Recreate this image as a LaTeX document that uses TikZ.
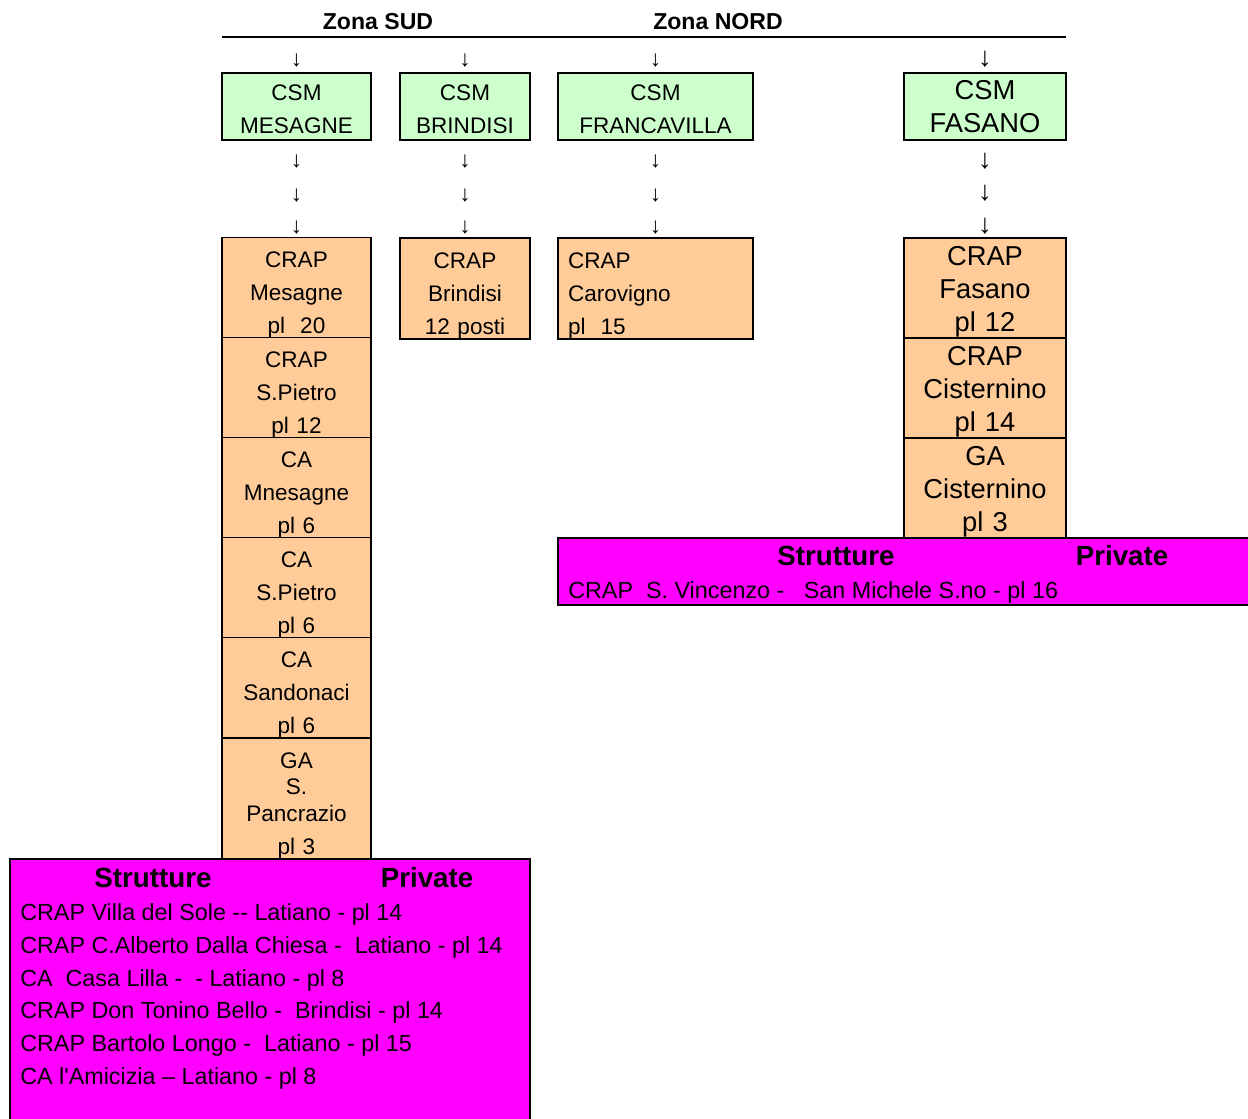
\documentclass[tikz,border=0pt]{standalone}
\usepackage{fontspec}
\setmainfont{Liberation Sans}[Ligatures=TeXOff]
\usetikzlibrary{positioning}

\definecolor{csmgreen}{HTML}{CCFFCC}
\definecolor{craporange}{HTML}{FFCC99}
\definecolor{privmagenta}{HTML}{FF00FF}

\newcommand{\fsmall}{\fontsize{16.9pt}{24.75pt}\selectfont}
\newcommand{\flarge}{\fontsize{20.5pt}{24.75pt}\selectfont}
\newcommand{\fitem}{\fontsize{17.5pt}{24.75pt}\selectfont}
\newcommand{\fzona}{\bfseries\fontsize{17.3pt}{20pt}\selectfont}
\newcommand{\fhead}{\bfseries\fontsize{20.8pt}{24pt}\selectfont}

\tikzset{
  csm/.style={draw, line width=1.2pt, fill=csmgreen, minimum height=50.25pt, inner sep=0pt, align=center, font=\fsmall, execute at begin node={\rule{0pt}{#1}}},
  csm/.default=16.6pt,
  crap/.style={draw, line width=1.2pt, fill=craporange, minimum height=75pt, inner sep=0pt, align=center, font=\fsmall, execute at begin node={\rule{0pt}{#1}}},
  crap/.default=22.6pt,
  priv/.style={draw, line width=1.2pt, fill=privmagenta, inner sep=0pt},
  down/.style={inner sep=0pt, font=\fsmall},
  item/.style={anchor=west, inner sep=0pt, font=\fitem},
  % column widths
  colmes/.style={minimum width=111.75pt, text width=111.75pt},
  colbri/.style={minimum width=97.5pt, text width=97.5pt},
  colfra/.style={minimum width=146.25pt, text width=146.25pt},
  colfas/.style={minimum width=121.5pt, text width=121.5pt, font=\flarge}
}

\begin{document}
\begin{tikzpicture}[x=0.75pt,y=-0.75pt]
\useasboundingbox (0,0) rectangle (1248,1119);
\clip (0,0) rectangle (1248,1119);

\node [font=\fzona] (zona_sud) at (378,22) {Zona SUD};
\node [font=\fzona] (zona_nord) at (718,22) {Zona NORD};
\draw [line width=2.2pt] (222,37) -- (1066,37);

% CSM
\node [csm, colmes] (CSM_mes) at (296.5,106.5) {CSM\\MESAGNE};
\node [csm, colbri] (CSM_bri) at (465,106.5) {CSM\\BRINDISI};
\node [csm, colfra] (CSM_fra) at (655.5,106.5) {CSM\\FRANCAVILLA};
\node [csm=14.7pt, colfas] (CSM_fas) at (985,106.5) {CSM\\FASANO};

\node [down] (d_mes0) at (296.5,61) {↓};
\node [down] (d_bri0) at (465,61) {↓};
\node [down] (d_fra0) at (655.5,61) {↓};
\node [down, font=\flarge] (d_fas0) at (985,59.5) {↓};

\node [down] (d_mes1) at (296.5,162) {↓};
\node [down] (d_mes2) at (296.5,196) {↓};
\node [down] (d_mes3) at (296.5,227.5) {↓};
\node [down] (d_bri1) at (465,162) {↓};
\node [down] (d_bri2) at (465,196) {↓};
\node [down] (d_bri3) at (465,227.5) {↓};
\node [down] (d_fra1) at (655.5,162) {↓};
\node [down] (d_fra2) at (655.5,196) {↓};
\node [down] (d_fra3) at (655.5,227.5) {↓};
\node [down, font=\flarge] (d_fas1) at (985,161) {↓};
\node [down, font=\flarge] (d_fas2) at (985,193) {↓};
\node [down, font=\flarge] (d_fas3) at (985,226) {↓};

% Zona SUD
\node [crap, colmes] (CRAP_mes) at (296.5,288) {CRAP\\Mesagne\\pl~~20};
\node [crap, colmes] (CRAP_spi) at (296.5,388) {CRAP\\S.Pietro\\pl 12};
\node [crap, colmes] (CA_mes) at (296.5,488) {CA\\Mnesagne\\pl 6};
\node [crap, colmes] (CA_spi) at (296.5,588) {CA\\S.Pietro\\pl 6};
\node [crap, colmes] (CA_san) at (296.5,688) {CA\\Sandonaci\\pl 6};
\node [crap, colmes, minimum height=90.75pt] (GA_spa) at (296.5,798.5) {GA\\[-5.25pt]S.\\[-4.5pt]Pancrazio\\pl 3};

\node [crap, colbri, minimum height=75.75pt] (CRAP_bri) at (465,288.5) {CRAP\\Brindisi\\12 posti};

% Zona NORD
\node [crap, colfra, minimum height=75.75pt, text width=131.25pt, align=left] (CRAP_car) at (655.5,288.5) {CRAP\\Carovigno\\pl~~15};

\node [crap=20.7pt, colfas] (CRAP_fas) at (985,288) {CRAP\\Fasano\\pl 12};
\node [crap=20.7pt, colfas] (CRAP_cis) at (985,388) {CRAP\\Cisternino\\pl 14};
\node [crap=20.7pt, colfas] (GA_cis) at (985,488) {GA\\Cisternino\\pl 3};

% private
\node [priv, minimum width=526.5pt, minimum height=50.25pt] (priv_nord) at (909,571.5) {};
\node [font=\fhead] (str_nord) at (836,556) {Strutture};
\node [font=\fhead] (pri_nord) at (1122,556) {Private};
\node [item] (vin) at (568,592) {CRAP~~S. Vincenzo -~~~San Michele S.no - pl 16};

\node [priv, minimum width=390pt, minimum height=203.25pt] (priv_sud) at (270,994.5) {};
\node [font=\fhead] (str_sud) at (153,878) {Strutture};
\node [font=\fhead] (pri_sud) at (427,878) {Private};
\node [item] (vil) at (20,914) {CRAP Villa del Sole -- Latiano - pl 14};
\node [item] (cal) at (20,947) {CRAP C.Alberto Dalla Chiesa -~~Latiano - pl 14};
\node [item] (lil) at (20,980) {CA~~Casa Lilla -~~- Latiano - pl 8};
\node [item] (ton) at (20,1012) {CRAP Don Tonino Bello -~~Brindisi - pl 14};
\node [item] (bar) at (20,1045) {CRAP Bartolo Longo -~~Latiano - pl 15};
\node [item] (ami) at (20,1078) {CA l'Amicizia – Latiano - pl 8};

%\draw[loosely dotted] (0,0) grid[step=50] (1248,1119);
\end{tikzpicture}
\end{document}
